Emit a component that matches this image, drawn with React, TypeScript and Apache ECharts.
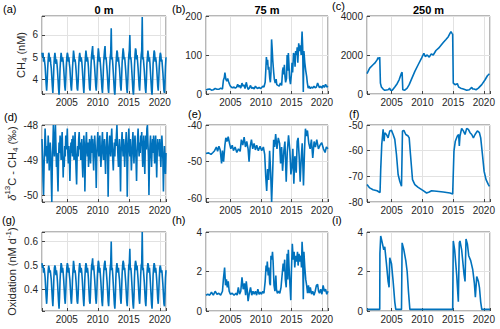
import { useEffect, useRef } from 'react';
import * as echarts from 'echarts';

const FONT = '"Liberation Sans", Arial, Helvetica, sans-serif';
const LINE = '#0072BD';
const TXT = '#262626';

const START_YEAR = 2001;
const X_MIN = 2001;
const X_MAX = 2021;
const xTicks = [2005, 2010, 2015, 2020];

// (a) CH4 0 m, monthly from 2001
const ch4Surface = [
  5.2,5.0,5.2,4.8,5.0,4.8,4.6,4.2,3.8,3.5,3.9,4.5,
  4.9,5.2,5.1,4.8,5.0,4.7,4.5,4.1,3.7,3.4,3.9,4.6,
  5.0,5.2,5.0,4.7,4.9,4.7,4.4,4.0,3.6,3.3,3.8,4.5,
  4.9,5.2,5.2,4.8,5.0,4.8,4.5,4.1,3.7,3.5,4.0,4.6,
  5.0,5.2,5.1,4.8,5.0,4.7,4.5,4.1,3.7,3.5,3.9,4.5,
  4.9,5.3,5.1,4.8,4.9,4.7,4.4,4.0,3.6,3.5,3.9,4.6,
  5.0,5.2,5.2,4.8,5.0,4.8,4.5,4.1,3.7,3.4,3.9,4.6,
  5.0,5.3,5.1,4.8,5.0,4.8,4.5,4.0,3.6,3.5,4.0,4.7,
  5.1,5.3,5.5,4.9,5.1,4.8,4.5,4.1,3.7,3.5,3.9,4.6,
  5.0,5.4,5.2,4.8,5.0,4.7,4.4,4.0,3.6,3.4,3.9,4.6,
  5.0,5.3,5.5,4.9,5.0,4.7,4.4,4.0,3.6,3.4,3.9,4.6,
  5.0,5.2,6.3,4.9,5.0,4.7,4.3,3.9,3.5,3.3,3.8,4.6,
  5.0,5.3,5.2,4.8,5.0,4.7,4.5,4.1,3.7,3.5,4.0,4.7,
  5.1,5.4,5.2,4.9,5.0,4.7,4.4,4.0,3.6,3.4,3.9,4.6,
  5.1,5.3,6.0,4.9,5.0,4.7,4.3,3.9,3.5,3.3,3.8,4.6,
  5.1,5.4,5.3,4.9,5.1,4.8,4.5,4.1,3.7,3.5,4.0,4.7,
  5.1,5.3,6.8,4.9,5.0,4.7,4.4,4.0,3.6,3.4,3.9,4.7,
  5.0,5.3,5.1,4.8,5.0,4.7,4.3,3.9,3.5,3.3,3.9,4.7,
  5.0,5.3,5.2,4.8,5.0,4.8,4.5,4.1,3.7,3.5,4.0,4.6,
  5.0,5.2,5.1,4.8,4.9,4.6,4.3,3.9,3.5,3.4,3.9,4.6,
  5.0,
];

// (d) d13C-CH4 0 m, monthly from 2001
const d13cSurface = [
  -48.4,-48.9,-49.6,-50.0,-49.2,-48.7,-48.1,-48.5,-48.9,-48.6,-49.1,-48.8,
  -48.3,-48.7,-49.3,-48.9,-48.5,-48.8,-49.6,-50.2,-49.1,-48.6,-48.0,-48.6,
  -48.9,-48.4,-48.0,-48.6,-49.2,-48.8,-49.4,-49.9,-49.0,-48.5,-48.8,-48.3,
  -48.6,-49.0,-48.5,-48.2,-48.8,-49.5,-48.9,-49.2,-48.6,-48.9,-48.3,-48.7,
  -48.5,-48.1,-48.8,-49.1,-48.6,-49.0,-49.6,-48.9,-48.5,-48.8,-48.4,-48.9,
  -48.3,-48.6,-49.0,-48.7,-48.2,-48.8,-49.3,-49.7,-48.9,-48.6,-48.9,-48.4,
  -48.2,-48.7,-48.5,-49.0,-48.8,-48.4,-49.1,-49.5,-48.8,-48.3,-48.6,-49.9,
  -49.0,-48.5,-48.2,-48.7,-48.9,-48.5,-49.2,-48.8,-48.4,-48.7,-49.1,-48.6,
  -48.3,-48.8,-48.4,-48.9,-49.3,-48.7,-48.3,-48.6,-49.0,-49.8,-48.9,-48.5,
  -48.2,-48.6,-48.9,-48.5,-48.3,-48.8,-49.2,-48.9,-48.5,-48.2,-48.7,-49.0,
  -48.6,-48.4,-48.9,-49.4,-48.8,-48.5,-48.2,-48.7,-50.05,-49.0,-48.6,-48.3,
  -48.7,-48.9,-48.4,-48.1,-48.6,-49.0,-49.3,-48.8,-48.5,-48.9,-48.4,-48.6,
  -48.3,-48.0,-48.5,-48.9,-49.2,-48.7,-48.4,-49.0,-49.9,-48.8,-48.5,-48.2,
  -48.6,-48.9,-48.4,-48.7,-49.2,-48.8,-48.5,-48.2,-48.6,-50.05,-49.0,-48.5,
  -48.1,-48.6,-48.9,-48.4,-48.8,-49.3,-48.9,-48.5,-48.2,-48.7,-49.1,-48.6,
  -48.3,-48.7,-49.0,-49.6,-48.8,-48.4,-48.1,-48.6,-48.9,-48.5,-48.8,-48.3,
  -48.6,-48.2,-48.8,-49.2,-48.7,-48.3,-48.9,-49.4,-48.6,-48.3,-48.7,-48.1,
  -48.0,-48.5,-48.9,-50.0,-49.0,-48.6,-48.3,-48.8,-49.2,-48.7,-48.4,-48.8,
  -48.3,-48.7,-49.1,-48.6,-48.3,-48.9,-49.5,-48.8,-48.4,-48.7,-48.5,-48.9,
  -48.4,-48.8,-49.2,-48.7,-48.3,-48.6,-49.0,-49.9,-49.1,-48.6,-48.9,-49.4,
  -48.8,
];

// (g) oxidation 0 m, monthly from 2001
const oxSurface = [
  0.51,0.49,0.50,0.47,0.49,0.47,0.45,0.41,0.37,0.34,0.38,0.44,
  0.48,0.50,0.50,0.47,0.48,0.46,0.44,0.40,0.36,0.33,0.38,0.45,
  0.49,0.50,0.49,0.46,0.48,0.46,0.43,0.39,0.35,0.32,0.37,0.44,
  0.48,0.51,0.50,0.47,0.49,0.47,0.44,0.40,0.36,0.34,0.39,0.45,
  0.49,0.51,0.50,0.47,0.49,0.46,0.44,0.40,0.36,0.34,0.38,0.44,
  0.48,0.52,0.50,0.47,0.48,0.46,0.43,0.39,0.35,0.34,0.38,0.45,
  0.49,0.51,0.51,0.47,0.49,0.47,0.44,0.40,0.36,0.33,0.38,0.45,
  0.49,0.51,0.50,0.47,0.49,0.47,0.44,0.39,0.35,0.34,0.39,0.46,
  0.50,0.51,0.53,0.48,0.50,0.47,0.44,0.40,0.36,0.34,0.38,0.45,
  0.49,0.52,0.51,0.47,0.49,0.46,0.43,0.39,0.35,0.33,0.38,0.45,
  0.49,0.51,0.52,0.48,0.49,0.46,0.43,0.39,0.35,0.33,0.38,0.45,
  0.49,0.51,0.60,0.48,0.49,0.46,0.42,0.38,0.34,0.32,0.37,0.45,
  0.49,0.51,0.51,0.47,0.49,0.46,0.44,0.40,0.36,0.34,0.39,0.46,
  0.50,0.52,0.51,0.48,0.49,0.46,0.43,0.39,0.35,0.33,0.38,0.45,
  0.50,0.51,0.57,0.48,0.49,0.46,0.42,0.38,0.34,0.32,0.37,0.45,
  0.50,0.52,0.51,0.48,0.50,0.47,0.44,0.40,0.36,0.34,0.39,0.46,
  0.50,0.51,0.64,0.48,0.49,0.46,0.43,0.39,0.35,0.33,0.38,0.46,
  0.49,0.51,0.50,0.47,0.49,0.46,0.42,0.38,0.34,0.32,0.38,0.46,
  0.49,0.51,0.50,0.47,0.49,0.47,0.44,0.40,0.36,0.34,0.39,0.45,
  0.49,0.50,0.50,0.47,0.48,0.45,0.42,0.38,0.34,0.33,0.38,0.45,
  0.48,
];

// (b) CH4 75 m [year, nM]
const ch4Mid: [number, number][] = [
  [2001.0,10],[2001.3,12],[2001.6,13],[2001.9,10],[2002.2,11],[2002.5,14],[2002.8,12],[2003.1,12],[2003.4,15],[2003.7,13],
  [2003.85,35],[2004.0,42],[2004.1,55],[2004.25,38],[2004.4,33],[2004.55,40],[2004.7,32],[2004.85,25],[2005.0,20],
  [2005.2,17],[2005.4,16],[2005.6,18],[2005.8,15],[2006.0,17],[2006.2,25],[2006.35,18],[2006.5,22],[2006.7,15],
  [2006.9,28],[2007.05,20],[2007.2,24],[2007.4,14],[2007.6,30],[2007.75,20],[2007.9,12],[2008.1,15],[2008.3,22],
  [2008.5,14],[2008.7,17],[2008.9,13],[2009.1,20],[2009.3,16],[2009.5,14],[2009.7,17],[2009.9,14],[2010.1,16],
  [2010.3,20],[2010.5,18],[2010.7,30],[2010.8,60],[2010.9,95],[2011.0,75],[2011.1,88],[2011.2,62],[2011.3,70],
  [2011.45,40],[2011.55,30],[2011.65,55],[2011.75,140],[2011.85,115],[2011.95,85],[2012.1,55],[2012.2,38],
  [2012.35,28],[2012.5,38],[2012.6,24],[2012.8,22],[2013.0,20],[2013.2,28],[2013.4,22],[2013.55,60],[2013.65,68],
  [2013.75,50],[2013.85,75],[2013.95,45],[2014.05,30],[2014.2,40],[2014.3,100],[2014.4,60],[2014.5,105],[2014.6,75],
  [2014.7,40],[2014.85,25],[2015.0,50],[2015.1,80],[2015.2,55],[2015.35,105],[2015.5,100],[2015.6,70],[2015.7,110],
  [2015.85,100],[2015.95,120],[2016.05,80],[2016.2,130],[2016.35,110],[2016.5,125],[2016.6,100],[2016.75,160],
  [2016.85,120],[2016.95,5],[2017.05,110],[2017.2,80],[2017.35,60],[2017.5,45],[2017.6,30],[2017.75,15],[2017.9,20],
  [2018.1,14],[2018.3,18],[2018.5,15],[2018.7,20],[2018.9,16],[2019.1,18],[2019.3,28],[2019.45,22],[2019.6,16],
  [2019.8,20],[2020.0,15],[2020.2,22],[2020.4,17],[2020.6,25],[2020.8,18],[2021.0,20],
];

// (c) CH4 250 m [year, nM]
const ch4Deep: [number, number][] = [
  [2001.0,1040],[2001.44,1330],[2001.98,1500],[2002.26,1580],[2002.64,1750],[2002.8,1870],[2002.96,1785],
  [2003.07,1890],[2003.18,560],[2003.34,360],[2003.62,255],[2003.89,190],[2004.43,220],[2004.7,300],[2004.81,190],
  [2005.14,200],[2005.52,360],[2005.9,530],[2006.22,730],[2006.61,1070],[2006.71,1120],[2006.82,220],[2007.15,200],
  [2007.53,300],[2007.86,480],[2008.24,760],[2008.78,1160],[2009.32,1500],[2009.87,1840],[2010.25,2090],
  [2010.47,1920],[2010.79,2000],[2011.12,1890],[2011.45,2060],[2011.77,2000],[2012.21,2230],[2012.64,2350],
  [2012.97,2470],[2013.4,2640],[2013.84,2800],[2014.22,2940],[2014.49,3110],[2014.65,3200],[2014.82,3110],
  [2014.93,3060],[2015.03,560],[2015.31,480],[2015.69,530],[2015.9,360],[2016.23,300],[2016.67,255],[2017.21,190],
  [2017.64,220],[2018.03,340],[2018.19,255],[2018.41,255],[2018.73,220],[2019.11,300],[2019.66,480],[2020.2,730],
  [2020.58,935],[2020.91,1040],
];

// (e) d13C-CH4 75 m [year, permil]
const d13cMid: [number, number][] = [
  [2001.0,-47.8],[2001.43,-47.6],[2001.82,-48.0],[2002.14,-47.5],[2002.41,-47.0],[2002.7,-46.0],[2002.9,-47.2],
  [2003.12,-45.8],[2003.33,-46.8],[2003.55,-50.5],[2003.7,-47.0],[2003.88,-50.0],[2004.1,-45.5],[2004.25,-43.5],
  [2004.42,-44.5],[2004.64,-43.2],[2004.85,-45.0],[2005.07,-46.5],[2005.3,-45.5],[2005.5,-47.0],[2005.77,-46.0],
  [2006.05,-47.5],[2006.32,-46.5],[2006.6,-47.2],[2006.8,-44.0],[2007.03,-45.5],[2007.25,-43.3],[2007.47,-46.0],
  [2007.68,-44.5],[2007.9,-46.5],[2008.06,-50.0],[2008.23,-46.0],[2008.45,-44.0],[2008.66,-46.5],[2008.88,-45.0],
  [2009.1,-46.8],[2009.31,-45.5],[2009.58,-47.0],[2009.86,-45.8],[2010.13,-47.0],[2010.4,-46.0],[2010.62,-48.0],
  [2010.79,-54.0],[2010.95,-58.0],[2011.1,-52.0],[2011.27,-55.0],[2011.43,-47.0],[2011.6,-53.0],[2011.76,-61.0],
  [2011.92,-53.5],[2012.09,-44.0],[2012.25,-46.0],[2012.42,-42.5],[2012.63,-46.5],[2012.85,-43.5],[2013.07,-45.0],
  [2013.23,-50.5],[2013.4,-46.0],[2013.55,-52.5],[2013.77,-47.0],[2013.94,-44.5],[2014.15,-55.5],[2014.32,-47.5],
  [2014.53,-42.8],[2014.75,-47.0],[2014.92,-53.5],[2015.08,-51.5],[2015.24,-46.5],[2015.4,-56.0],[2015.57,-48.5],
  [2015.79,-53.0],[2015.95,-44.5],[2016.1,-43.5],[2016.27,-48.5],[2016.44,-55.5],[2016.6,-49.5],[2016.77,-45.0],
  [2016.98,-56.5],[2017.15,-47.0],[2017.3,-41.0],[2017.47,-43.0],[2017.63,-41.5],[2017.85,-45.0],[2018.07,-46.5],
  [2018.28,-44.0],[2018.5,-49.0],[2018.72,-44.5],[2018.94,-46.0],[2019.16,-44.0],[2019.43,-46.5],[2019.7,-45.5],
  [2019.97,-44.8],[2020.25,-46.5],[2020.52,-47.5],[2020.73,-46.0],[2021.0,-46.5],
];

// (f) d13C-CH4 250 m [year, permil]
const d13cDeep: [number, number][] = [
  [2001.0,-73.2],[2001.44,-74.5],[2001.98,-75.2],[2002.64,-75.6],[2002.96,-76.1],[2003.12,-76.3],[2003.23,-67.3],
  [2003.4,-57.6],[2003.62,-51.7],[2003.78,-56.3],[2003.89,-53.0],[2004.16,-53.7],[2004.43,-55.0],[2004.7,-52.3],
  [2004.98,-52.1],[2005.25,-53.7],[2005.52,-55.6],[2005.79,-61.5],[2006.06,-69.3],[2006.33,-71.9],[2006.61,-73.9],
  [2006.77,-52.3],[2006.99,-52.1],[2007.31,-53.7],[2007.69,-54.3],[2007.86,-55.0],[2008.07,-61.5],[2008.4,-71.3],
  [2008.78,-73.2],[2009.32,-74.3],[2010.14,-75.6],[2010.69,-76.5],[2011.12,-76.1],[2011.5,-75.6],[2012.32,-75.8],
  [2013.4,-76.1],[2014.49,-76.5],[2014.93,-76.9],[2015.14,-60.2],[2015.36,-56.3],[2015.69,-54.3],[2015.9,-53.7],
  [2016.01,-58.2],[2016.12,-54.3],[2016.39,-51.3],[2016.67,-52.3],[2016.94,-53.7],[2017.21,-51.3],[2017.48,-51.7],
  [2017.75,-53.0],[2018.03,-53.7],[2018.3,-55.0],[2018.57,-53.7],[2018.95,-52.3],[2019.28,-53.0],[2019.49,-55.0],
  [2019.77,-61.5],[2020.04,-68.0],[2020.36,-71.3],[2020.74,-73.2],[2020.91,-73.9],
];

// (h) oxidation 75 m [year, nM/d]
const oxMid: [number, number][] = [
  [2001.0,0.8],[2001.3,0.85],[2001.6,0.8],[2001.9,0.95],[2002.2,0.8],[2002.5,1.0],[2002.8,0.85],[2003.1,0.9],
  [2003.4,0.8],[2003.7,1.0],[2003.85,1.6],[2004.05,2.2],[2004.2,1.3],[2004.35,1.6],[2004.5,1.2],[2004.65,1.5],
  [2004.8,1.0],[2005.0,0.85],[2005.3,0.9],[2005.6,0.8],[2005.9,0.9],[2006.1,0.8],[2006.3,1.2],[2006.5,0.85],
  [2006.7,1.0],[2006.9,1.7],[2007.1,1.1],[2007.3,1.4],[2007.5,0.8],[2007.6,1.5],[2007.75,1.1],[2007.9,0.5],
  [2008.1,0.9],[2008.3,1.2],[2008.5,0.8],[2008.7,1.0],[2008.9,0.85],[2009.1,1.0],[2009.3,0.8],[2009.5,1.1],
  [2009.7,0.85],[2009.9,0.95],[2010.1,0.85],[2010.3,1.0],[2010.5,0.9],[2010.7,1.5],[2010.85,2.3],[2010.95,2.0],
  [2011.05,2.5],[2011.2,1.8],[2011.3,2.2],[2011.45,1.4],[2011.55,1.3],[2011.65,2.8],[2011.8,2.6],[2011.9,3.0],
  [2012.0,2.5],[2012.15,1.3],[2012.3,1.0],[2012.45,1.8],[2012.55,1.1],[2012.7,0.9],[2012.9,1.0],[2013.1,0.9],
  [2013.3,1.2],[2013.5,1.9],[2013.65,2.4],[2013.75,2.0],[2013.9,2.6],[2014.0,1.6],[2014.15,1.2],[2014.3,2.9],
  [2014.4,1.6],[2014.5,3.1],[2014.6,2.3],[2014.75,1.4],[2014.9,0.55],[2015.0,2.0],[2015.15,3.4],[2015.3,2.6],
  [2015.45,3.0],[2015.55,2.2],[2015.7,2.8],[2015.85,2.5],[2016.0,3.0],[2016.1,2.3],[2016.25,2.9],[2016.4,2.5],
  [2016.55,2.8],[2016.65,2.2],[2016.75,3.5],[2016.85,2.9],[2016.95,0.6],[2017.05,3.0],[2017.2,2.2],[2017.35,1.6],
  [2017.5,1.3],[2017.65,0.9],[2017.8,1.3],[2017.95,0.9],[2018.1,1.2],[2018.3,0.85],[2018.5,1.0],[2018.7,0.8],
  [2018.9,1.0],[2019.1,1.3],[2019.3,1.35],[2019.45,1.0],[2019.6,0.9],[2019.8,1.1],[2020.0,0.85],[2020.2,1.3],
  [2020.4,1.0],[2020.6,1.1],[2020.8,0.85],[2021.0,1.0],
];

// (i) oxidation 250 m [year, nM/d]
const oxDeep: [number, number][] = [
  [2001.0,0.08],[2003.07,0.08],[2003.1,2.9],[2003.23,3.8],[2003.45,3.5],[2003.72,3.1],[2003.89,3.25],[2004.16,2.4],
  [2004.43,1.5],[2004.59,1.2],[2004.7,2.7],[2004.98,2.4],[2005.25,1.5],[2005.52,0.45],[2005.68,0.08],[2006.61,0.08],
  [2006.71,3.45],[2006.99,3.1],[2007.31,2.55],[2007.53,2.0],[2007.75,0.95],[2007.97,0.08],[2014.93,0.08],
  [2015.03,3.55],[2015.25,3.1],[2015.58,1.85],[2015.85,0.47],[2016.01,3.45],[2016.12,3.55],[2016.39,3.1],
  [2016.78,1.85],[2016.94,1.5],[2017.1,3.65],[2017.32,3.4],[2017.54,2.8],[2017.86,2.55],[2018.19,2.1],[2018.46,1.4],
  [2018.62,0.7],[2018.84,1.75],[2019.11,1.5],[2019.28,1.2],[2019.49,0.45],[2019.66,0.08],[2021.0,0.08],
];

const columnTitles = ['0 m', '75 m', '250 m'];
const panelLetters = ['(a)', '(b)', '(c)', '(d)', '(e)', '(f)', '(g)', '(h)', '(i)'];
const yNames = ['CH{sub|4} (nM)', '{it|δ}{sup|13}C - CH{sub|4} (‰)', 'Oxidation (nM d{sup|-1})'];

const monthly = (vals: number[]) => vals.map((v, i) => [START_YEAR + i / 12, v]);

const panels = [
  { data: monthly(ch4Surface), min: 3.35, max: 6.85, split: 4, ticks: [4, 5, 6] },
  { data: ch4Mid, min: 0, max: 200, split: 2, ticks: [0, 100, 200] },
  { data: ch4Deep, min: 0, max: 4000, split: 2, ticks: [0, 2000, 4000] },
  { data: monthly(d13cSurface), min: -50.2, max: -48, split: 2, ticks: [-50, -49, -48] },
  { data: d13cMid, min: -61, max: -40, split: 2, ticks: [-60, -50, -40] },
  { data: d13cDeep, min: -80, max: -50, split: 3, ticks: [-80, -70, -60, -50] },
  { data: monthly(oxSurface), min: 0.31, max: 0.64, split: 3, ticks: [0.4, 0.5, 0.6] },
  { data: oxMid, min: 0, max: 4, split: 2, ticks: [0, 2, 4] },
  { data: oxDeep, min: 0, max: 4, split: 2, ticks: [0, 2, 4] },
];

const cols = [
  { left: 42, width: 124 },
  { left: 206, width: 122 },
  { left: 367, width: 123 },
];
const rows = [
  { top: 16, height: 78 },
  { top: 125, height: 77 },
  { top: 232, height: 79 },
];
const nameGaps = [11, 19, 16];
const letterPos = [
  [3, 9], [172, 9], [332, 6],
  [4, 117], [188, 114], [349, 114],
  [2, 220], [172, 220], [332, 220],
];

export default function App() {
  const ref = useRef<HTMLDivElement>(null);
  useEffect(() => {
    if (!ref.current) return;
    const chart = echarts.init(ref.current, undefined, { renderer: 'svg' });
    const grid: any[] = [];
    const xAxis: any[] = [];
    const yAxis: any[] = [];
    const series: any[] = [];
    panels.forEach((p, i) => {
      const r = Math.floor(i / 3);
      const c = i % 3;
      grid.push({
        left: cols[c].left, width: cols[c].width, top: rows[r].top, height: rows[r].height,
        show: true, borderColor: '#6e6e6e', borderWidth: 1, backgroundColor: '#fff',
      });
      xAxis.push({
        gridIndex: i, type: 'value', min: X_MIN, max: X_MAX, splitNumber: 4,
        axisLine: { show: false },
        axisTick: { show: true, inside: true, length: 3, lineStyle: { color: '#444' } },
        axisLabel: {
          margin: 3, fontSize: 10, color: TXT, fontFamily: FONT,
          formatter: (v: number) => {
            const t = xTicks.find((k) => Math.abs(k - v) < 1e-6);
            return t === undefined ? '' : String(t);
          },
        },
        splitLine: { show: true, lineStyle: { color: '#e2e2e2', width: 1 } },
      });
      const y: any = {
        gridIndex: i, type: 'value', min: p.min, max: p.max, splitNumber: p.split,
        axisLine: { show: false },
        axisTick: { show: true, inside: true, length: 3, lineStyle: { color: '#444' } },
        axisLabel: {
          margin: 4, fontSize: 10, color: TXT, fontFamily: FONT,
          formatter: (v: number) => {
            const t = p.ticks.find((k) => Math.abs(k - v) < 1e-6 * Math.max(1, Math.abs(k)));
            return t === undefined ? '' : String(t);
          },
        },
        splitLine: { show: true, lineStyle: { color: '#e2e2e2', width: 1 } },
      };
      if (c === 0) {
        Object.assign(y, {
          name: yNames[r], nameLocation: 'middle', nameRotate: 90, nameGap: nameGaps[r],
          nameTextStyle: {
            fontSize: 11, color: TXT, fontFamily: FONT, lineHeight: 16,
            rich: {
              sub: { fontSize: 8, lineHeight: 8, verticalAlign: 'bottom', color: TXT, fontFamily: FONT },
              sup: { fontSize: 8, lineHeight: 8, verticalAlign: 'top', color: TXT, fontFamily: FONT },
              it: { fontSize: 11, lineHeight: 16, fontStyle: 'italic', color: TXT, fontFamily: FONT },
            },
          },
        });
      }
      yAxis.push(y);
      series.push({
        type: 'line', xAxisIndex: i, yAxisIndex: i, data: p.data,
        showSymbol: false, symbol: 'none', clip: true,
        lineStyle: { color: LINE, width: 1.6 },
      });
    });
    const graphic: any[] = [];
    columnTitles.forEach((t, c) => {
      graphic.push({
        type: 'text', x: cols[c].left + cols[c].width / 2, y: 10,
        style: { text: t, font: `bold 11px ${FONT}`, fill: '#000', align: 'center', verticalAlign: 'middle' },
      });
    });
    panelLetters.forEach((t, i) => {
      graphic.push({
        type: 'text', x: letterPos[i][0], y: letterPos[i][1],
        style: { text: t, font: `11px ${FONT}`, fill: '#000', align: 'left', verticalAlign: 'middle' },
      });
    });
    chart.setOption({
      animation: false,
      backgroundColor: '#fff',
      grid, xAxis, yAxis, series, graphic,
    });
    return () => chart.dispose();
  }, []);
  return <div ref={ref} style={{ position: 'fixed', left: 0, top: 0, width: 500, height: 329 }} />;
}
